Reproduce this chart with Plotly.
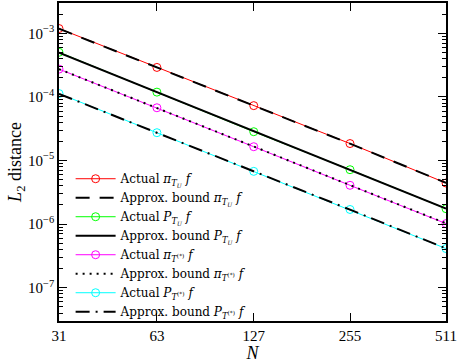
import plotly.graph_objects as go

# grid sizes
N = [31, 63, 127, 255, 511]

# actual errors
actual_pi_tu = [1.19e-3, 2.91e-4, 7.3e-5, 1.85e-5, 4.43e-6]
actual_p_tu = [5.04e-4, 1.19e-4, 2.84e-5, 7.18e-6, 1.75e-6]
actual_pi_ts = [2.74e-4, 6.76e-5, 1.65e-5, 4.08e-6, 1.02e-6]
actual_p_ts = [1.13e-4, 2.74e-5, 6.76e-6, 1.70e-6, 4.13e-7]

# approximate bounds
bound_pi_tu = [1.18e-3, 2.90e-4, 7.3e-5, 1.84e-5, 4.45e-6]
bound_p_tu = [4.98e-4, 1.20e-4, 2.86e-5, 7.10e-6, 1.76e-6]
bound_pi_ts = [2.74e-4, 6.75e-5, 1.66e-5, 4.10e-6, 1.03e-6]
bound_p_ts = [1.12e-4, 2.75e-5, 6.80e-6, 1.69e-6, 4.15e-7]

y_tickvals = [1e-7, 1e-6, 1e-5, 1e-4, 1e-3]
y_ticktext = ["10<sup>−7</sup>", "10<sup>−6</sup>", "10<sup>−5</sup>",
              "10<sup>−4</sup>", "10<sup>−3</sup>"]

FONT = "Liberation Serif"
LEG_FONT = "DejaVu Serif"

lab_pi_tu = "<i>π</i><sub><i>T</i><sub><i>U</i></sub></sub> <i>f</i>"
lab_p_tu = "<i>P</i><sub><i>T</i><sub><i>U</i></sub></sub> <i>f</i>"
lab_pi_ts = "<i>π</i><sub><i>T</i><sup>(*)</sup></sub> <i>f</i>"
lab_p_ts = "<i>P</i><sub><i>T</i><sup>(*)</sup></sub> <i>f</i>"

fig = go.Figure()


def actual(y, color, name):
    fig.add_trace(go.Scatter(
        x=N, y=y, mode="lines+markers", name="Actual " + name,
        line=dict(color=color, width=1),
        marker=dict(symbol="circle-open", size=8, color=color, line=dict(width=1))
    ))


def bound(y, dash, name):
    fig.add_trace(go.Scatter(
        x=N, y=y, mode="lines", name="Approx. bound " + name,
        line=dict(color="black", width=2, dash=dash)
    ))


actual(actual_pi_tu, "#ff0000", lab_pi_tu)
bound(bound_pi_tu, "14px,10px", lab_pi_tu)
actual(actual_p_tu, "#00ff00", lab_p_tu)
bound(bound_p_tu, "solid", lab_p_tu)
actual(actual_pi_ts, "#ff00ff", lab_pi_ts)
bound(bound_pi_ts, "2px,5px", lab_pi_ts)
actual(actual_p_ts, "#00ffff", lab_p_ts)
bound(bound_p_ts, "14px,6px,2px,6px", lab_p_ts)

fig.update_layout(
    width=458, height=363,
    margin=dict(l=59, r=12, t=1, b=35),
    paper_bgcolor="white", plot_bgcolor="white",
    font=dict(family=FONT, size=15, color="black"),
    legend=dict(x=0.03, y=0.493, xanchor="left", yanchor="top",
                bgcolor="rgba(255,255,255,0)",
                font=dict(family=LEG_FONT, size=12),
                itemwidth=40, tracegroupgap=0),
)

fig.update_xaxes(
    type="log", range=[1.4914, 2.7084],
    tickvals=N, ticktext=[str(n) for n in N],
    ticks="inside", ticklen=8, tickcolor="black",
    showline=True, linecolor="black", linewidth=1.5, mirror="ticks",
    showgrid=False, zeroline=False,
    title=dict(text="<i>N</i>", standoff=6),
)

fig.update_yaxes(
    type="log", range=[-7.523, -2.523],
    tickvals=y_tickvals, ticktext=y_ticktext,
    ticks="inside", ticklen=8, tickcolor="black",
    minor=dict(ticks="inside", ticklen=4, tickcolor="black", dtick="D1", showgrid=False),
    showline=True, linecolor="black", linewidth=1.5, mirror="ticks",
    showgrid=False, zeroline=False,
    title=dict(text="<i>L</i><sub>2</sub> distance", standoff=2),
)

fig.write_html("out.html", config={"displayModeBar": False},
               post_script="document.body.style.margin='0';")
